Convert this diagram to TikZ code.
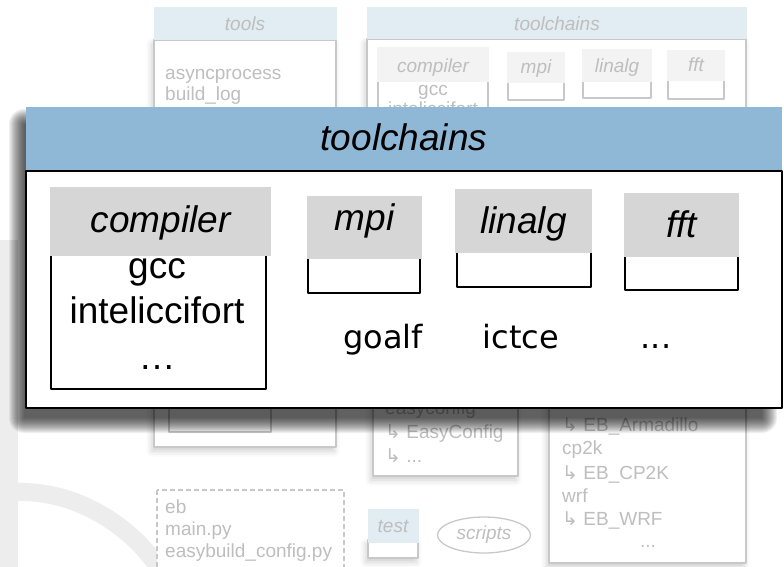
\documentclass[tikz,border=0pt]{standalone}
\usepackage{fontspec}
\setmainfont{Liberation Sans}
\newfontfamily\dejavu{DejaVu Sans}
\usetikzlibrary{shapes.geometric,shadows.blur}
\definecolor{bgtext}{RGB}{190,190,190}
\definecolor{bgline}{RGB}{200,200,200}
\definecolor{bghead}{RGB}{226,236,243}
\definecolor{bgsub}{RGB}{243,243,243}
\definecolor{pophead}{RGB}{143,184,214}
\definecolor{popsub}{RGB}{214,214,214}
\definecolor{logo}{RGB}{237,237,237}
\newcommand\bgfont{\fontsize{19}{23}\selectfont}
\newcommand\popfont{\fontsize{37}{45}\selectfont}
\newcommand\hookto{{\dejavu ↳}}
\tikzset{
	bgbox/.style={draw=bgline, line width=1.3pt, fill=white, blur shadow={shadow xshift=-2pt, shadow yshift=-4pt, shadow blur radius=6pt, shadow opacity=20}},
	bgtxt/.style={text=bgtext, font=\bgfont, inner sep=0pt, anchor=base west},
	bglbl/.style={text=bgtext, font=\bgfont\itshape, inner sep=0pt, anchor=base},
	poplbl/.style={font=\popfont\itshape, inner sep=0pt, anchor=base},
	poptxt/.style={font=\popfont, inner sep=0pt, anchor=base},
	chaintxt/.style={font=\dejavu\fontsize{32}{38}\selectfont, inner sep=0pt, anchor=base},
}
\begin{document}
\begin{tikzpicture}[x=1pt, y=-1pt, line join=round]
	\useasboundingbox (0,0) rectangle (784,566);
	%\draw[gray!30] (0,0) grid[step=50] (784,566);
	% faint logo behind everything
	\draw[logo, line width=18pt] (9,240)--(9,570);
	\draw[logo, line width=18pt] (16,492) .. controls (80,490) and (135,530) .. (160,570);
	% background: tools
	\draw[bgbox] (154,40) rectangle (336,447);
	\fill[bghead] (154,7) rectangle (337,40);
	\node[bglbl] (tools) at (245,30) {tools};
	\node[bgtxt] (async) at (165,79) {asyncprocess};
	\node[bgtxt] (buildlog) at (165,100) {build\_log};
	\draw[bgline, line width=1.3pt] (169,395) rectangle (271,432);
	% background: toolchains
	\draw[bgbox] (367,39) rectangle (746,395);
	\fill[bghead] (367,7) rectangle (747,39);
	\node[bglbl] (bgchains) at (557,30) {toolchains};
	\foreach \nm/\xa/\xb/\ya/\yb/\yc in {compiler/377/489/47/82/130, mpi/507/565/52/83/100, linalg/582/652/49/82/98, fft/667/725/50/81/99}{
		\draw[bgline, line width=1.3pt, fill=white] (\xa+1,\yb-4) rectangle (\xb-1,\yc);
		\fill[bgsub] (\xa,\ya) rectangle (\xb,\yb);
		\node[bglbl] (bg\nm) at ({(\xa+\xb)/2},\yb-10) {\nm};
	}
	\node[bglbl, font=\bgfont] (bggcc) at (433,95) {gcc};
	\node[bglbl, font=\bgfont] (bgintel) at (433,115) {inteliccifort};
	% background: easyconfig, easyblocks
	\draw[bgbox] (373,380) rectangle (518,476);
	\node[bgtxt] (ecfg) at (385,414) {easyconfig};
	\node[bgtxt] (ecfgcls) at (385,438) {\hookto~EasyConfig};
	\node[bgtxt] (ecfgmore) at (385,462) {\hookto~...};
	\draw[bgbox] (549,380) rectangle (746,563);
	\foreach \y/\t [count=\i] in {431/\hookto~EB\_Armadillo, 454/cp2k, 479/\hookto~EB\_CP2K, 502/wrf, 525/\hookto~EB\_WRF}
		\node[bgtxt] (eb\i) at (562,\y) {\t};
	\node[bglbl, font=\bgfont] (ebmore) at (648,547) {...};
	% background: bottom row
	\draw[bgline, line width=1.3pt, dash pattern=on 5pt off 3pt, fill=white] (157,490) rectangle (344,580);
	\node[bgtxt] (eb) at (165,513) {eb};
	\node[bgtxt] (mainpy) at (165,535) {main.py};
	\node[bgtxt] (config) at (165,557) {easybuild\_config.py};
	\draw[bgbox] (368,540) rectangle (418,558);
	\fill[bghead] (368,509) rectangle (419,543);
	\node[bglbl] (test) at (393,532) {test};
	\node[ellipse, draw=bgline, line width=1.3pt, text=bgtext, font=\bgfont\itshape, minimum width=93pt, minimum height=36pt, inner sep=0pt] (scripts) at (484,535) {scripts};
	% popup with its soft shadow
	\foreach \r in {0,...,15}
		\fill[black, opacity=0.06, rounded corners=\r pt] (24-\r,124-\r) rectangle (762+\r,418+\r);
	\fill[white] (26,107) rectangle (782,408);
	\fill[pophead] (26,107) rectangle (782,171);
	\draw[line width=2pt] (26,171) rectangle (782,408);
	\node[poplbl] (chains) at (404,150) {toolchains};
	\foreach \nm/\xa/\xb/\ya/\yb/\xc/\xd/\yc/\yl in {compiler/50/271/187/256/51/266/389/232, mpi/307/422/196/259/308/420/293/230, linalg/455/592/189/253/457/591/287/233, fft/624/739/193/257/625/738/290/237}{
		\draw[line width=2pt, fill=white] (\xc,\yb-6) rectangle (\xd,\yc);
		\fill[popsub] (\xa,\ya) rectangle (\xb,\yb);
		\node[poplbl] (\nm) at ({(\xa+\xb)/2},\yl) {\nm};
	}
	\node[poptxt] (gcc) at (157,278) {gcc};
	\node[poptxt] (intel) at (157,323) {inteliccifort};
	\node[poptxt] (cdots) at (157,369) {…};
	\node[chaintxt] (goalf) at (383,348) {goalf};
	\node[chaintxt] (ictce) at (521,348) {ictce};
	\node[chaintxt] (more) at (656,348) {...};
\end{tikzpicture}
\end{document}
